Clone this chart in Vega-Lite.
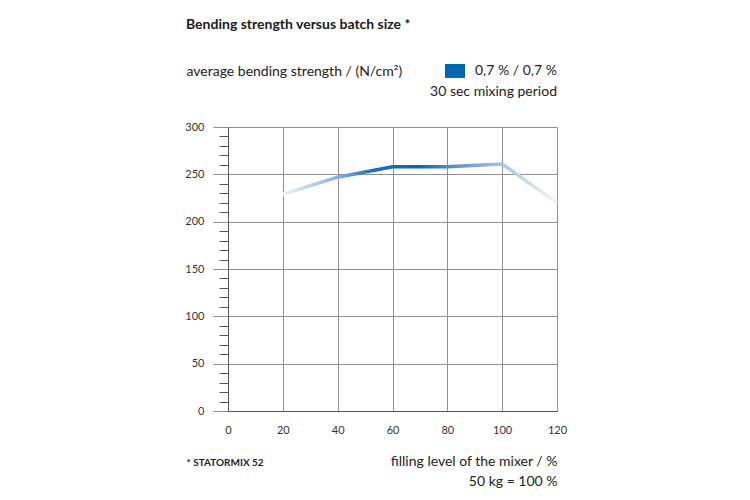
{
  "$schema": "https://vega.github.io/schema/vega-lite/v6.json",
  "width": 329,
  "height": 284,
  "autosize": "none",
  "padding": {"left": 228, "top": 127, "right": 193, "bottom": 89},
  "background": "white",
  "title": {
    "text": "Bending strength versus batch size *",
    "anchor": "start",
    "frame": "group",
    "dx": -42,
    "offset": 18,
    "baseline": "alphabetic",
    "fontSize": 14,
    "fontWeight": "bold",
    "color": "#1a1a1a"
  },
  "data": {
    "values": [
      {"level": 20, "strength": 229, "series": "0,7 % / 0,7 %"},
      {"level": 40, "strength": 247, "series": "0,7 % / 0,7 %"},
      {"level": 60, "strength": 258, "series": "0,7 % / 0,7 %"},
      {"level": 80, "strength": 258, "series": "0,7 % / 0,7 %"},
      {"level": 100, "strength": 261, "series": "0,7 % / 0,7 %"},
      {"level": 120, "strength": 220, "series": "0,7 % / 0,7 %"}
    ]
  },
  "encoding": {
    "x": {
      "field": "level",
      "type": "quantitative",
      "scale": {"domain": [0, 120], "nice": false},
      "axis": {
        "values": [0, 20, 40, 60, 80, 100, 120],
        "grid": true,
        "gridColor": "#8f8f8f",
        "ticks": false,
        "labelFlush": false,
        "domainColor": "#555555",
        "labelPadding": 13,
        "labelFontSize": 11,
        "labelColor": "#333333",
        "title": ["filling level of the mixer / %", "50 kg = 100 %"],
        "titleFontSize": 14,
        "titleFontWeight": "normal",
        "titleColor": "#222222",
        "titleAlign": "right",
        "titleAnchor": "end",
        "titleBaseline": "alphabetic",
        "titleLineHeight": 20,
        "titleX": 329,
        "titleY": 54
      }
    }
  },
  "layer": [
    {
      "mark": {
        "type": "line",
        "strokeWidth": 3.5,
        "clip": false,
        "color": {
          "gradient": "linear",
          "x1": 0, "y1": 0, "x2": 1, "y2": 0,
          "stops": [
            {"offset": 0, "color": "#eef3fa"},
            {"offset": 0.2, "color": "#8aaedb"},
            {"offset": 0.33, "color": "#1a6fb8"},
            {"offset": 0.5, "color": "#0b66b2"},
            {"offset": 0.6, "color": "#4f88c8"},
            {"offset": 0.8, "color": "#a9c2e5"},
            {"offset": 1, "color": "#f4f7fc"}
          ]
        }
      },
      "encoding": {
        "y": {
          "field": "strength",
          "type": "quantitative",
          "scale": {"domain": [0, 300], "nice": false},
          "axis": {
            "values": [0, 10, 20, 30, 40, 50, 60, 70, 80, 90, 100, 110, 120, 130, 140, 150, 160, 170, 180, 190, 200, 210, 220, 230, 240, 250, 260, 270, 280, 290, 300],
            "labelExpr": "datum.value % 50 === 0 ? datum.label : ''",
            "grid": true,
            "gridColor": "#8f8f8f",
            "gridOpacity": {"condition": {"test": "datum.value % 50 === 0", "value": 1}, "value": 0},
            "tickSize": {"condition": {"test": "datum.value % 50 === 0", "value": 15}, "value": 9},
            "tickColor": {"condition": {"test": "datum.value % 50 === 0", "value": "#8f8f8f"}, "value": "#555555"},
            "domainColor": "#555555",
            "labelPadding": 9,
            "labelFontSize": 11,
            "labelColor": "#333333",
            "title": "average bending strength / (N/cm²)",
            "titleAngle": 0,
            "titleAlign": "left",
            "titleBaseline": "alphabetic",
            "titleX": -42,
            "titleY": -52,
            "titleFontSize": 14,
            "titleFontWeight": "normal",
            "titleColor": "#222222"
          }
        }
      }
    },
    {
      "mark": {"type": "square", "opacity": 0},
      "encoding": {
        "y": {
          "field": "strength",
          "type": "quantitative",
          "axis": {
            "orient": "right",
            "labels": false,
            "ticks": false,
            "domain": false,
            "grid": false,
            "title": "* STATORMIX 52",
            "titleAngle": 0,
            "titleAlign": "left",
            "titleBaseline": "alphabetic",
            "titleX": -371,
            "titleY": 338,
            "titleFontSize": 10,
            "titleFontWeight": "bold",
            "titleColor": "#222222"
          }
        },
        "color": {
          "field": "series",
          "type": "nominal",
          "scale": {"range": ["#0067b1"]},
          "legend": {
            "orient": "none",
            "legendX": 202,
            "legendY": -66,
            "title": "30 sec mixing period",
            "titleOrient": "bottom",
            "titleAnchor": "end",
            "titleFontSize": 14,
            "titleFontWeight": "normal",
            "titleColor": "#222222",
            "titlePadding": 7,
            "symbolType": "M-1,-0.7H1V0.7H-1Z",
            "symbolSize": 400,
            "symbolOpacity": 1,
            "symbolStrokeWidth": 0,
            "symbolOffset": 10,
            "labelOffset": 10,
            "labelFontSize": 14,
            "labelColor": "#222222"
          }
        }
      }
    }
  ],
  "resolve": {"axis": {"y": "independent"}},
  "config": {
    "font": "Lato",
    "view": {"stroke": null}
  }
}
